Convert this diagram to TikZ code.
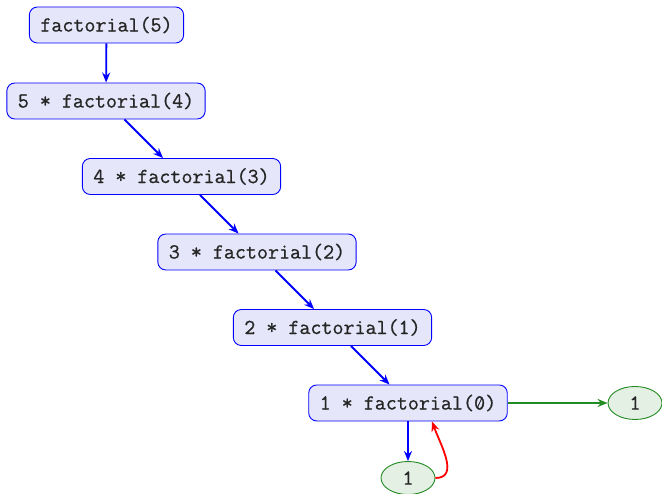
\documentclass[tikz,border=0pt]{standalone}
\usepackage{fontspec}
\usepackage{graphicx}
\newfontfamily\codefont{Latin Modern Mono}[FakeBold=0.8]
\usetikzlibrary{arrows.meta,shapes.geometric}
\definecolor{boxfill}{RGB}{230,230,250}
\definecolor{leaffill}{RGB}{229,240,229}
\definecolor{leafgreen}{RGB}{34,139,34}
\newcommand{\slzero}{\makebox[0.525em]{0}\llap{\makebox[0.525em]{\raisebox{0.05em}{\rotatebox{64}{\rule{0.56em}{0.045em}}}}}}
\begin{document}
\begin{tikzpicture}[x=1pt,y=1pt,
  box/.style={draw=blue, fill=boxfill, rounded corners=8pt, line width=0.9pt,
    minimum height=36pt, inner xsep=11pt, inner ysep=0pt, text=black!85,
    font=\fontsize{21.4}{25}\selectfont\codefont},
  leaf/.style={ellipse, draw=leafgreen, fill=leaffill, line width=0.9pt,
    minimum width=54pt, minimum height=33pt, inner sep=0pt, text=black!85,
    font=\fontsize{21.4}{25}\selectfont\codefont},
  arr/.style={-{Stealth[length=10pt,width=8pt]}, line width=1.8pt}]
\useasboundingbox (0,0) rectangle (662,494);
\node[box] (n1) at (106.5,469) {factorial(5)};
\node[box] (n2) at (106,393) {5 * factorial(4)};
\node[box] (n3) at (181.5,317.5) {4 * factorial(3)};
\node[box] (n4) at (257,242) {3 * factorial(2)};
\node[box] (n5) at (332.5,166.5) {2 * factorial(1)};
\node[box] (n6) at (408,91) {1 * factorial(\slzero)};
\node[leaf] (r) at (635,91) {1};
\node[leaf] (b) at (408,16) {1};
\draw[arr, blue] (n1) -- (n2);
\draw[arr, blue] (n2) -- (n3);
\draw[arr, blue] (n3) -- (n4);
\draw[arr, blue] (n4) -- (n5);
\draw[arr, blue] (n5) -- (n6);
\draw[arr, blue] (n6.south) -- (b.north);
\draw[arr, leafgreen] (n6.east) -- (r.west);
\draw[arr, red] (b.east) to[out=0, in=-70, looseness=1.1] ([xshift=24pt]n6.south);
\end{tikzpicture}
\end{document}
